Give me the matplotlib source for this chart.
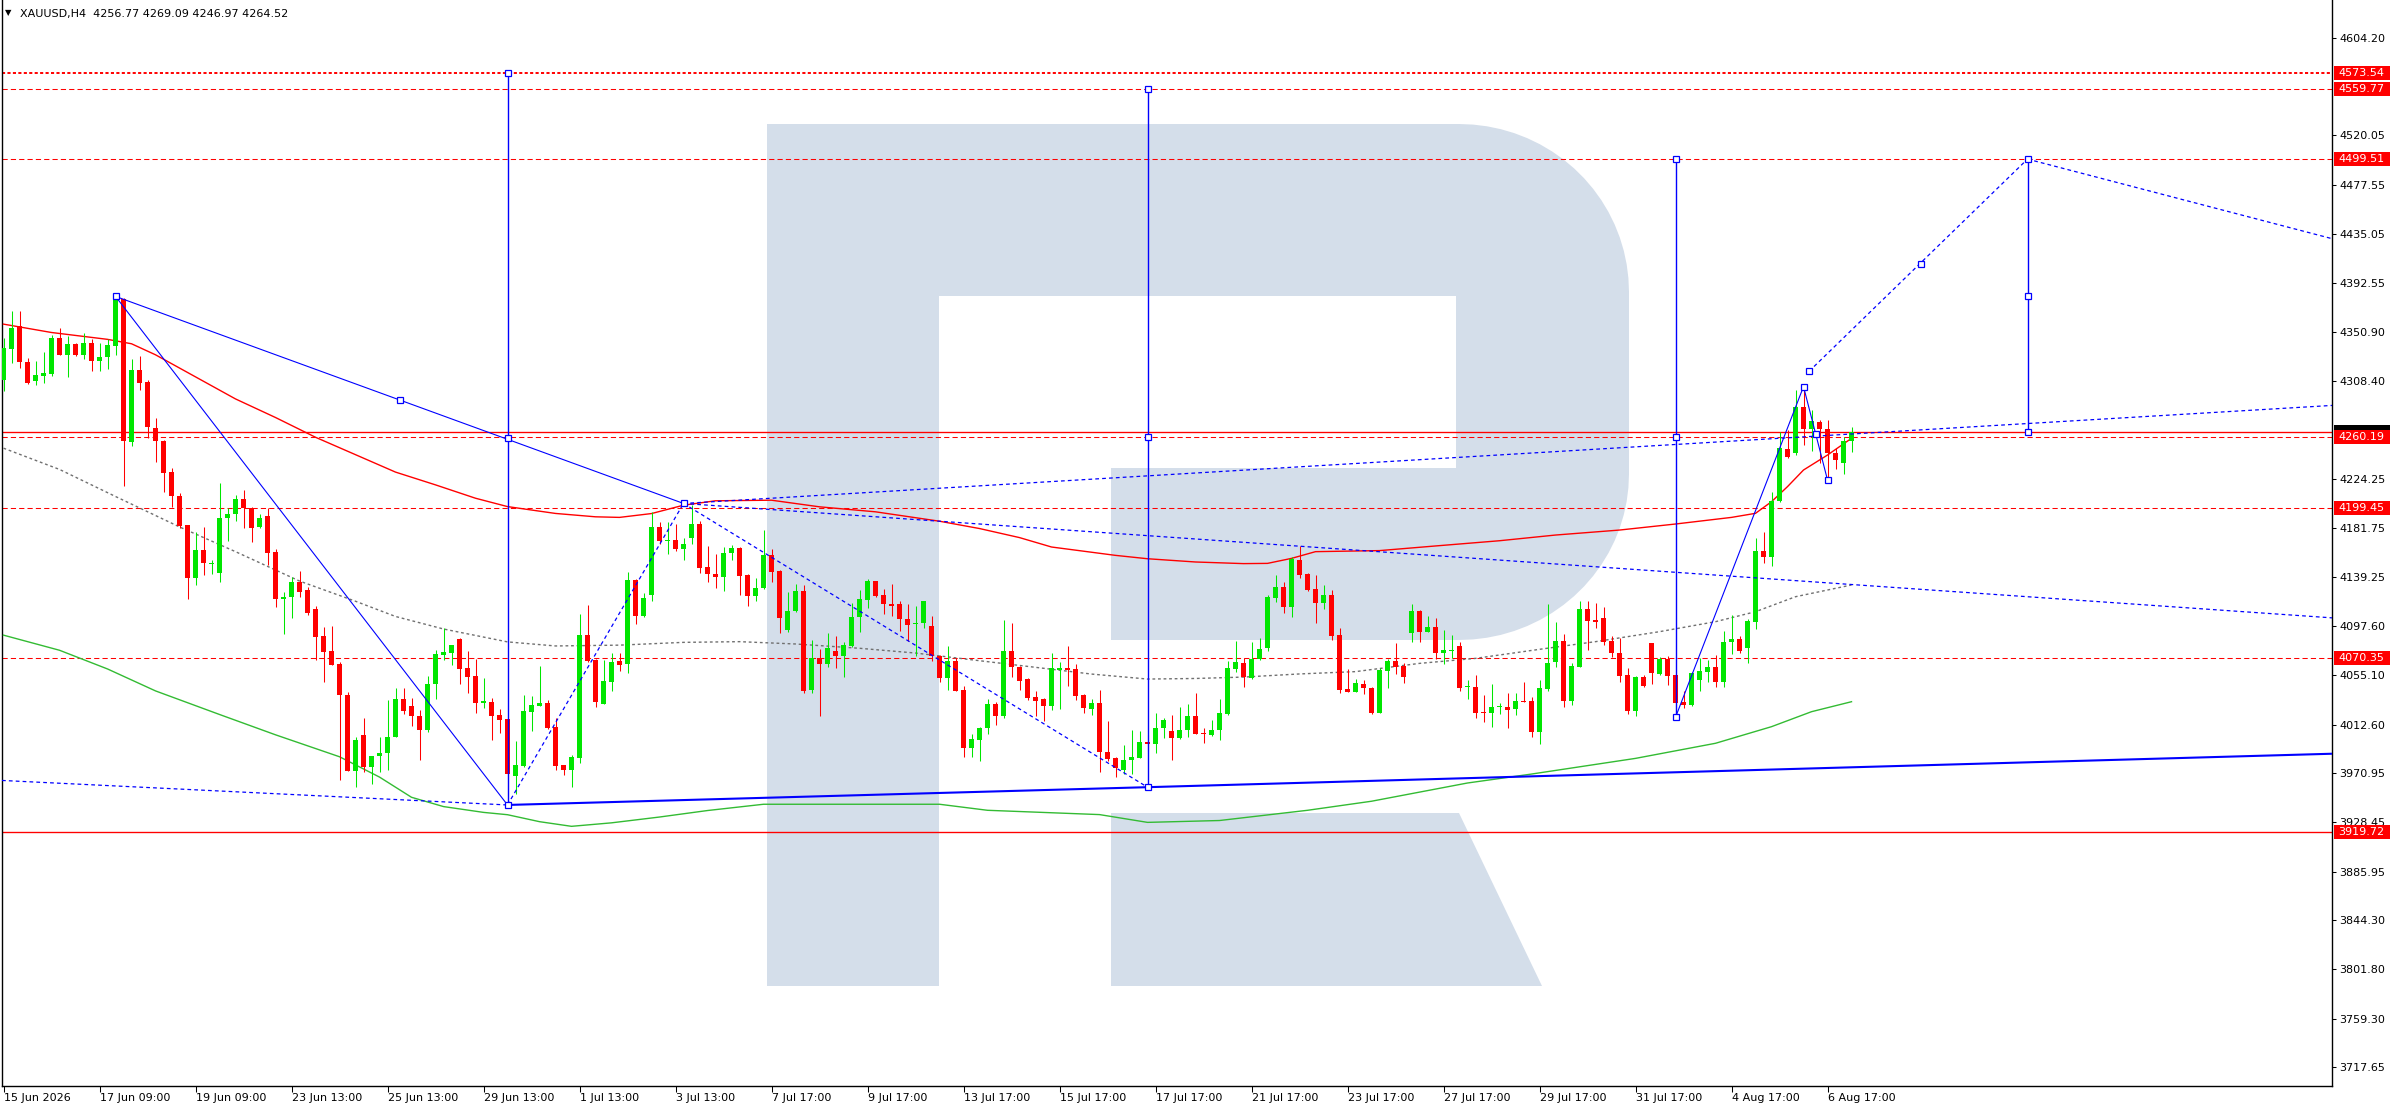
import matplotlib
matplotlib.use("Agg")
import matplotlib.pyplot as plt
import matplotlib.transforms as mtransforms
from matplotlib.patches import Polygon, Rectangle
import numpy as np

plt.rcParams['font.family'] = ['DejaVu Sans']

# ---------------- data ----------------
header_text = "XAUUSD,H4  4256.77 4269.09 4246.97 4264.52"

opens = [4309.4,4336.2,4355.7,4324.8,4308.8,4312.9,4314.6,4345.2,4331.2,4340.0,
         4331.2,4341.1,4326.0,4328.9,4338.5,4379.3,4255.6,4317.6,4307.4,4268.1,
         4256.7,4230.0,4209.0,4184.3,4139.1,4163.0,4150.8,4142.9,4190.7,4193.9,
         4207.2,4199.4,4182.8,4192.1,4161.3,4121.1,4122.3,4135.1,4128.4,4111.8,
         4089.1,4076.0,4064.6,4037.8,3972.4,4003.5,3976.1,3985.8,3987.8,4002.3,
         4034.4,4028.5,4020.4,4007.6,4047.2,4072.8,4074.5,4086.7,4061.1,4054.7,
         4030.9,4032.0,4020.7,4017.5,3968.3,3977.0,4023.6,4028.5,4030.9,4010.5,
         3977.6,3973.8,3984.0,4089.6,4067.8,4030.6,4049.5,4067.0,4064.7,4136.7,
         4105.9,4123.8,4182.8,4170.7,4171.3,4163.5,4173.6,4185.7,4148.2,4142.5,
         4139.6,4160.3,4164.9,4141.0,4123.2,4130.4,4158.3,4144.5,4094.4,4110.2,
         4127.2,4042.3,4069.9,4064.7,4076.2,4071.9,4080.6,4105.0,4120.3,4135.9,
         4123.8,4116.6,4116.0,4103.6,4099.3,4099.9,4097.8,4071.9,4052.3,4067.6,
         4042.3,3992.2,3999.1,4009.4,4030.2,4020.1,4076.2,4062.4,4051.8,4036.5,
         4034.5,4028.7,4059.8,4061.5,4060.4,4037.9,4026.4,4031.0,3989.0,3983.8,
         3973.4,3981.8,3984.1,3997.3,3996.2,4009.4,4007.1,4000.8,4007.7,4020.1,
         4005.7,4003.7,4007.7,4021.5,4060.4,4065.9,4052.4,4068.8,4078.3,4121.9,
         4131.3,4114.1,4154.3,4142.3,4129.3,4117.0,4123.9,4089.7,4043.2,4041.0,
         4047.6,4043.8,4022.9,4059.0,4067.4,4063.0,4091.2,4110.4,4092.6,4096.3,
         4073.9,4076.3,4080.3,4044.7,4044.7,4023.7,4022.3,4027.4,4028.0,4025.7,
         4033.2,4032.9,4006.5,4043.2,4066.8,4084.6,4033.2,4062.5,4111.8,4102.6,
         4104.1,4084.6,4074.5,4055.3,4024.6,4053.3,4082.6,4056.1,4069.1,4055.3,
         4032.3,4029.5,4051.0,4058.2,4061.9,4049.6,4084.0,4086.3,4078.8,4101.2,
         4162.3,4157.2,4205.4,4249.9,4246.2,4285.8,4266.8,4272.9,4266.8,4246.7,
         4238.1,4256.77]
highs = [4345.8,4368.5,4368.5,4328.3,4325.4,4333.3,4347.8,4354.5,4347.2,4341.4,
         4349.9,4344.3,4341.4,4344.3,4381.3,4379.8,4327.7,4329.8,4309.4,4276.5,
         4257.3,4233.4,4211.9,4184.3,4178.1,4182.8,4154.6,4220.6,4199.4,4210.4,
         4214.8,4200.3,4193.9,4198.8,4163.6,4126.6,4140.0,4144.7,4131.3,4114.4,
         4096.9,4097.5,4066.4,4040.8,4002.3,4018.1,3985.8,4001.5,4033.8,4043.7,
         4043.7,4035.8,4025.0,4054.7,4077.1,4096.1,4081.5,4087.3,4075.7,4069.3,
         4052.7,4035.8,4025.6,4017.5,3998.8,4037.8,4037.3,4062.9,4033.8,4018.3,
         3977.6,3986.3,4107.7,4115.3,4069.3,4067.8,4074.2,4074.0,4143.9,4138.1,
         4126.1,4195.7,4187.1,4187.1,4185.7,4173.6,4201.5,4187.7,4166.1,4159.2,
         4165.5,4166.9,4165.5,4141.9,4139.0,4179.9,4163.5,4145.9,4126.6,4133.3,
         4133.0,4085.8,4077.7,4091.2,4089.2,4084.0,4117.4,4128.7,4137.6,4135.9,
         4129.5,4133.8,4118.9,4116.6,4115.1,4119.4,4106.5,4072.8,4080.6,4069.9,
         4046.0,4004.8,4010.9,4034.5,4032.2,4103.0,4099.9,4063.3,4052.3,4041.7,
         4035.4,4073.9,4066.2,4080.6,4064.7,4038.8,4034.5,4042.5,4015.8,3984.7,
         3994.8,4007.7,4007.1,4004.0,4023.0,4018.6,4020.9,4028.1,4030.2,4040.2,
         4009.4,4016.3,4035.0,4067.6,4084.3,4069.6,4084.0,4086.9,4124.2,4141.4,
         4135.7,4157.2,4166.4,4143.4,4141.4,4132.5,4128.5,4096.0,4060.4,4051.6,
         4051.0,4045.3,4061.6,4069.1,4082.6,4065.9,4116.4,4111.3,4106.4,4104.1,
         4094.0,4089.7,4084.0,4051.0,4055.3,4038.1,4047.6,4030.9,4039.5,4039.5,
         4049.0,4036.1,4051.0,4116.4,4100.6,4090.6,4065.3,4119.3,4119.3,4117.0,
         4114.1,4088.9,4086.9,4061.0,4054.4,4055.3,4082.6,4071.1,4071.7,4055.9,
         4041.5,4058.2,4069.6,4068.2,4072.5,4093.5,4106.9,4088.9,4103.2,4173.0,
         4178.7,4212.6,4264.8,4266.3,4300.7,4303.6,4283.5,4274.9,4274.9,4250.5,
         4259.9,4269.09]
lows = [4300.1,4324.0,4319.6,4305.9,4305.0,4307.1,4312.9,4331.2,4312.0,4329.8,
        4327.7,4316.7,4316.7,4319.0,4330.7,4218.3,4252.7,4300.4,4259.3,4239.0,
        4213.1,4200.3,4182.2,4121.1,4132.4,4141.2,4142.0,4135.6,4170.3,4188.0,
        4182.2,4169.7,4182.2,4149.9,4113.5,4090.2,4104.8,4122.3,4107.1,4067.8,
        4049.5,4063.5,3964.5,3972.4,3958.7,3971.8,3961.6,3971.8,3973.2,4001.5,
        4021.3,4011.1,3982.0,4006.4,4034.9,4067.8,4063.5,4047.5,4040.2,4022.7,
        4027.1,3999.4,4005.2,3952.0,3952.9,3976.1,4007.3,4028.5,4009.0,3973.8,
        3969.4,3958.7,3979.1,4066.4,4027.9,4030.6,4041.6,4059.0,4056.6,4099.3,
        4105.0,4119.4,4167.8,4159.8,4162.1,4154.0,4168.4,4143.0,4135.3,4130.1,
        4127.5,4154.0,4123.8,4115.1,4118.9,4129.5,4135.3,4091.2,4092.6,4109.4,
        4040.2,4039.4,4020.1,4061.9,4061.0,4053.2,4079.1,4092.1,4112.8,4122.3,
        4107.4,4106.5,4093.5,4084.9,4071.9,4095.8,4067.6,4048.9,4042.5,4041.1,
        3984.9,3984.9,3981.2,4004.8,4012.3,4018.6,4053.2,4042.3,4033.6,4020.1,
        4015.8,4025.0,4025.8,4046.0,4033.6,4023.0,4020.9,3972.0,3981.2,3967.7,
        3970.3,3969.7,3984.1,3990.0,3988.4,4001.4,3981.8,3999.9,4001.9,4004.2,
        3997.0,4002.8,3999.1,4020.7,4057.5,4044.7,4051.6,4068.2,4076.3,4118.4,
        4109.0,4105.5,4138.5,4127.6,4100.4,4111.8,4085.4,4039.5,4040.4,4040.4,
        4039.0,4021.4,4022.3,4044.4,4055.9,4048.7,4083.4,4084.0,4092.0,4069.1,
        4064.5,4069.6,4041.8,4034.3,4018.6,4015.1,4010.8,4021.4,4009.4,4020.8,
        4032.3,4002.2,3995.6,4041.8,4062.5,4028.0,4029.5,4061.9,4076.8,4095.5,
        4081.1,4071.1,4049.6,4021.4,4020.3,4045.3,4047.2,4055.3,4046.7,4022.3,
        4026.6,4028.6,4041.8,4049.6,4045.3,4045.3,4073.4,4074.5,4065.3,4094.6,
        4152.0,4149.4,4204.5,4241.8,4244.7,4253.3,4248.4,4237.5,4224.6,4232.4,
        4228.4,4246.97]
closes = [4336.5,4354.5,4324.5,4307.1,4313.2,4315.2,4345.2,4331.2,4340.0,4330.4,
          4341.1,4326.0,4328.9,4339.4,4379.3,4257.0,4317.6,4307.1,4268.4,4256.4,
          4229.4,4209.0,4184.0,4139.1,4163.0,4151.4,4152.0,4190.9,4193.9,4207.2,
          4198.8,4182.2,4190.9,4160.7,4121.1,4122.5,4135.1,4126.9,4108.6,4088.2,
          4075.1,4064.0,4037.8,3972.4,3999.4,3976.1,3985.8,3987.8,4002.3,4034.4,
          4024.2,4020.4,4007.6,4047.5,4073.4,4075.1,4081.5,4060.5,4053.9,4030.9,
          4032.6,4020.4,4016.9,3969.7,3977.6,4024.2,4029.4,4031.4,4009.6,3977.0,
          3973.8,3984.9,4089.6,4067.2,4032.3,4050.1,4066.4,4064.0,4136.7,4105.9,
          4121.5,4182.8,4170.7,4171.3,4163.5,4168.4,4185.7,4147.4,4142.5,4139.6,
          4160.6,4164.4,4140.4,4123.2,4130.4,4158.3,4143.9,4104.2,4110.8,4127.2,
          4041.7,4069.9,4064.7,4078.5,4071.9,4081.1,4105.6,4120.9,4135.9,4123.2,
          4116.0,4115.1,4103.6,4098.7,4100.1,4118.6,4071.9,4052.3,4067.6,4041.7,
          3992.2,4000.5,4010.0,4030.2,4020.1,4076.2,4061.9,4050.3,4035.4,4033.0,
          4028.7,4061.0,4061.3,4059.8,4037.4,4026.7,4031.0,3989.0,3983.2,3974.9,
          3981.8,3984.7,3997.6,3996.2,4010.0,4016.3,4000.8,4008.0,4020.1,4004.2,
          4004.2,4008.0,4022.7,4061.0,4066.2,4053.9,4068.8,4077.7,4122.7,4130.8,
          4114.1,4154.9,4141.4,4128.5,4117.6,4123.9,4089.2,4042.4,4041.0,4048.1,
          4043.8,4022.3,4059.6,4067.4,4061.9,4053.3,4110.4,4092.6,4096.3,4073.9,
          4076.8,4076.8,4044.4,4045.3,4022.9,4022.3,4028.0,4028.9,4025.2,4032.9,
          4032.3,4006.5,4043.8,4065.9,4084.6,4033.2,4063.0,4111.8,4102.1,4101.2,
          4084.0,4073.9,4054.7,4024.6,4053.3,4046.1,4056.7,4068.8,4054.7,4031.5,
          4029.5,4057.3,4059.0,4061.9,4049.6,4084.0,4086.3,4076.3,4101.8,4162.3,
          4157.2,4205.4,4250.5,4243.3,4286.3,4266.8,4274.0,4266.8,4246.7,4240.4,
          4257.1,4264.52]

red_ma_bars = [0,6,13,16,19,24,29,34,39,44,49,54,59,63,69,74,77,81,85,89,96,102,109,117,
               122,127,131,139,143,149,155,158,161,164,172,179,187,194,202,209,216,219,
               221,223,225,228,231]
red_ma_vals = [4357.4,4350.2,4344.3,4340.5,4331.0,4312.0,4293.0,4277.0,4260.0,4245.0,
               4230.0,4219.0,4207.5,4200.3,4194.4,4191.5,4191.0,4194.3,4201.5,4205.3,
               4205.8,4200.1,4195.8,4187.7,4181.4,4173.6,4165.5,4158.3,4155.4,4152.6,
               4151.2,4151.4,4155.7,4161.5,4162.4,4166.4,4170.9,4175.8,4180.1,4185.3,
               4191.0,4194.5,4204.5,4217.5,4231.8,4244.7,4259.1]
gray_ma_bars = [0,7,14,22,29,37,44,49,55,63,69,77,85,92,99,107,114,122,129,136,143,149,
                155,162,169,177,184,192,199,207,214,219,224,231]
gray_ma_vals = [4250.6,4232.3,4209.0,4182.8,4161.5,4136.2,4118.8,4105.7,4094.9,4083.8,
                4080.3,4081.0,4083.4,4084.0,4082.0,4078.3,4074.2,4067.6,4061.9,4056.1,
                4051.8,4052.3,4053.5,4056.2,4058.2,4065.3,4069.6,4077.4,4084.0,4092.6,
                4101.2,4109.8,4122.7,4132.8]
green_ma_bars = [0,7,13,19,27,34,42,47,51,55,60,63,67,71,76,82,88,95,102,117,123,137,143,
                 152,163,171,183,191,204,214,221,226,231]
green_ma_vals = [4089.6,4076.6,4060.5,4041.6,4021.3,4003.8,3984.9,3967.4,3950.0,3942.0,
                 3937.0,3935.0,3929.0,3925.0,3928.0,3933.0,3938.6,3944.0,3944.0,3944.0,
                 3938.8,3935.1,3928.4,3930.0,3938.8,3946.6,3962.3,3970.0,3983.5,3996.5,
                 4010.8,4023.7,4032.3]

level_bold_dotted = 4573.54
levels_dashed = [4559.77, 4499.51, 4260.19, 4199.45, 4070.35]
levels_solid = [4264.52, 3919.72]
red_labels = [4573.54, 4559.77, 4499.51, 4260.19, 4199.45, 4070.35, 3919.72]
current_price = 4264.52

price_ticks = [4604.20, 4520.05, 4477.55, 4435.05, 4392.55, 4350.90, 4308.40, 4224.25,
               4181.75, 4139.25, 4097.60, 4055.10, 4012.60, 3970.95, 3928.45, 3885.95,
               3844.30, 3801.80, 3759.30, 3717.65]
time_label_bars = [0, 12, 24, 36, 48, 60, 72, 84, 96, 108, 120, 132, 144, 156, 168, 180,
                   192, 204, 216, 228]
time_labels = ["15 Jun 2026", "17 Jun 09:00", "19 Jun 09:00", "23 Jun 13:00", "25 Jun 13:00",
               "29 Jun 13:00", "1 Jul 13:00", "3 Jul 13:00", "7 Jul 17:00", "9 Jul 17:00",
               "13 Jul 17:00", "15 Jul 17:00", "17 Jul 17:00", "21 Jul 17:00", "23 Jul 17:00",
               "27 Jul 17:00", "29 Jul 17:00", "31 Jul 17:00", "4 Aug 17:00", "6 Aug 17:00"]

X_RIGHT = 291.06
X_LEFT = -0.1875
# blue analysis objects (bar index, price)
blue_solid_lines = [
    [(14, 4381.3), (63, 3943.4)],
    [(14, 4381.3), (85, 4203.0)],
    [(209, 4018.9), (225, 4303.6), (228, 4223.2)],
]
blue_support = [(63, 3943.4), (143, 3958.7), (X_RIGHT, 3987.5)]
blue_verticals = [(63, 3943.4, 4573.54), (143, 3958.7, 4559.77),
                  (209, 4018.9, 4499.51), (253, 4264.5, 4499.51)]
blue_dotted_lines = [
    [(X_LEFT, 3964.5), (63, 3943.4)],
    [(63, 3943.4), (85, 4203.0)],
    [(85, 4203.0), (143, 3958.7)],
    [(85, 4203.0), (X_RIGHT, 4104.5)],
    [(85, 4203.0), (X_RIGHT, 4287.4)],
    [(225.7, 4316.8), (253, 4499.51)],
    [(253, 4499.51), (X_RIGHT, 4431.0)],
]
blue_nodes = [(14, 4381.3), (49.5, 4292.5), (63, 4259.3), (63, 3943.4), (63, 4573.54),
              (85, 4203.0), (143, 4559.77), (143, 4260.19), (143, 3958.7),
              (209, 4499.51), (209, 4260.19), (209, 4018.9), (225, 4303.6),
              (226.5, 4262.8), (228, 4223.2), (225.7, 4316.8), (239.7, 4408.9),
              (253, 4499.51), (253, 4382.0), (253, 4264.5)]

# ---------------- figure ----------------
W, H = 2396, 1110
AX_L, AX_R, AX_B = 2, 2332, 1086
fig = plt.figure(figsize=(W / 100, H / 100), dpi=100)
ax = fig.add_axes([AX_L / W, 1 - AX_B / H, (AX_R - AX_L) / W, AX_B / H])
PX_PER_UNIT = 1.1614
Y_TOP = 4604.20 + 37.5 / PX_PER_UNIT
Y_BOT = 4604.20 - (AX_B - 37.5) / PX_PER_UNIT
ax.set_xlim(X_LEFT, X_RIGHT)
ax.set_ylim(Y_BOT, Y_TOP)

# watermark logo (axes fraction coordinates from pixel geometry)
def af(px, py):
    return ((px - AX_L) / (AX_R - AX_L), 1 - py / AX_B)

LOGO = '#d4deea'
stem = [af(767, 124), af(939, 124), af(939, 986), af(767, 986)]
bowl = [af(939, 124), af(1459, 124)]
for t in np.linspace(np.pi / 2, 0, 20):
    bowl.append(af(1459 + 170 * np.cos(t), 292 - 168 * np.sin(t)))
for t in np.linspace(0, -np.pi / 2, 20):
    bowl.append(af(1459 + 170 * np.cos(t), 474 - 166 * np.sin(t)))
bowl += [af(1111, 640), af(1111, 468), af(1456, 468), af(1456, 296), af(939, 296)]
leg = [af(1111, 813), af(1459, 813), af(1542, 986), af(1111, 986)]
for poly in (stem, bowl, leg):
    ax.add_patch(Polygon(poly, closed=True, transform=ax.transAxes, fc=LOGO, ec='none', zorder=0))

# horizontal levels
LW1 = 0.75
ax.axhline(level_bold_dotted, color='red', lw=1.4, ls=(0, (1.6, 1.2)), zorder=2)
for lv in levels_dashed:
    ax.axhline(lv, color='red', lw=LW1, ls=(0, (5, 3)), zorder=2)
for lv in levels_solid:
    ax.axhline(lv, color='red', lw=LW1 * 1.3, zorder=2)

# moving averages
ax.plot(red_ma_bars, red_ma_vals, color='#ff0000', lw=1.0, zorder=3)
ax.plot(gray_ma_bars, gray_ma_vals, color='#707070', lw=1.0, ls=(0, (2, 2)), zorder=3)
ax.plot(green_ma_bars, green_ma_vals, color='#33bb33', lw=1.0, zorder=3)

# candles
GREEN, RED = '#00e600', '#ff0000'
o = np.array(opens); c = np.array(closes); h = np.array(highs); l = np.array(lows)
x = np.arange(len(o))
cols = np.where(c >= o, GREEN, RED)
ax.vlines(x, l, h, colors=cols, lw=LW1, zorder=4)
bottoms = np.minimum(o, c)
heights = np.maximum(np.abs(c - o), 0.9)
ax.bar(x, heights, bottom=bottoms, width=0.62, color=cols, lw=0, zorder=4.1)

# blue objects
BLUE = '#0000ff'
for seg in blue_solid_lines:
    xs, ys = zip(*seg)
    ax.plot(xs, ys, color=BLUE, lw=0.8, zorder=5)
xs, ys = zip(*blue_support)
ax.plot(xs, ys, color=BLUE, lw=1.5, zorder=5)
for bx, y0, y1 in blue_verticals:
    ax.plot([bx, bx], [y0, y1], color=BLUE, lw=1.0, zorder=5)
for seg in blue_dotted_lines:
    xs, ys = zip(*seg)
    ax.plot(xs, ys, color=BLUE, lw=0.9, ls=(0, (3, 2.5)), zorder=5)
nx, ny = zip(*blue_nodes)
ax.plot(nx, ny, 's', ms=4, mfc='white', mec=BLUE, mew=0.9, zorder=6, clip_on=False)

# axes styling
for s in ('left', 'right', 'bottom'):
    ax.spines[s].set_color('black')
    ax.spines[s].set_linewidth(1.0)
ax.spines['top'].set_visible(False)
ax.yaxis.tick_right()
ax.set_yticks(price_ticks)
ax.set_yticklabels([f"{v:.2f}" for v in price_ticks])
ax.tick_params(axis='y', length=3, width=0.75, pad=2, labelsize=8, colors='black')
ax.set_xticks(time_label_bars)
ax.set_xticklabels(time_labels, ha='left')
ax.tick_params(axis='x', length=4, width=0.75, pad=1, labelsize=8, colors='black')

# price labels on the axis
blend = mtransforms.blended_transform_factory(ax.transAxes, ax.transData)
bx0 = (2334 - AX_L) / (AX_R - AX_L)
bw = 56 / (AX_R - AX_L)
bh = 14 / PX_PER_UNIT
tx0 = (2338 - AX_L) / (AX_R - AX_L)
ax.add_patch(Rectangle((bx0, current_price - bh / 2), bw, bh, transform=blend,
                       fc='black', ec='none', clip_on=False, zorder=10))
for v in red_labels:
    ax.add_patch(Rectangle((bx0, v - bh / 2), bw, bh, transform=blend,
                           fc='#ff0000', ec='none', clip_on=False, zorder=11))
    ax.text(tx0, v, f"{v:.2f}", transform=blend, color='white', fontsize=8,
            va='center', ha='left', clip_on=False, zorder=12)

# header
fig.text(5 / W, 1 - 13 / H, "\u25bc", fontsize=6, va='center', ha='left')
fig.text(20.5 / W, 1 - 14 / H, header_text, fontsize=8, va='center', ha='left')

fig.savefig("out.png", dpi=100, facecolor='white')
